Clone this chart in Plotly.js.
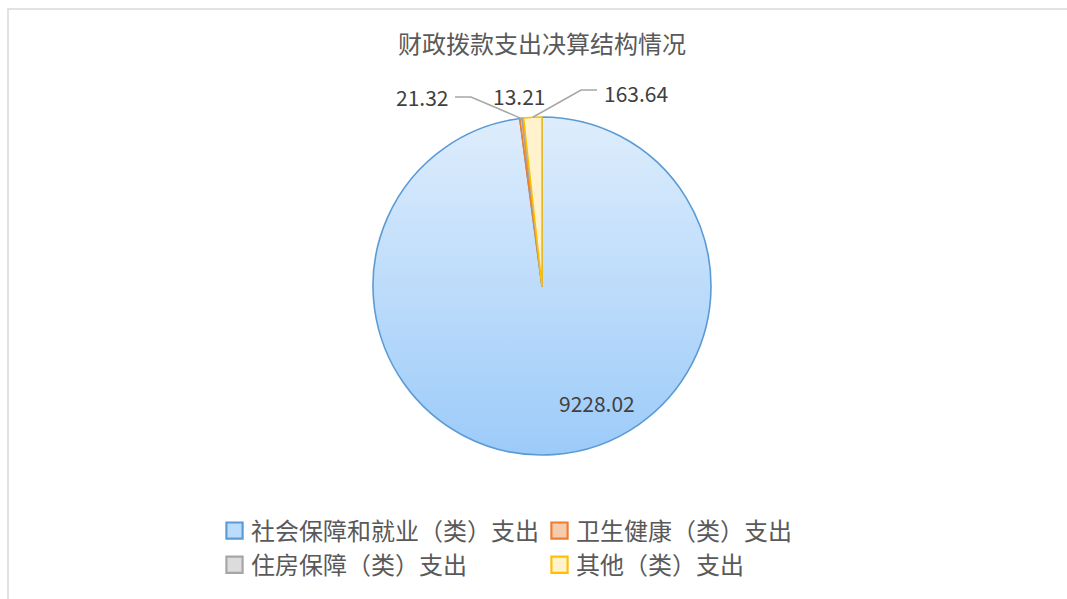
<!DOCTYPE html>
<html>
<head>
<meta charset="utf-8">
<script src="https://cdn.plot.ly/plotly-3.0.1.min.js"></script>
<style>
html,body{margin:0;padding:0;background:#fff;}
#chart{width:1067px;height:599px;}
</style>
</head>
<body>
<div id="chart"></div>
<script>
// ---- data ----
const categories = ['社会保障和就业（类）支出', '卫生健康（类）支出', '住房保障（类）支出', '其他（类）支出'];
const values = [9228.02, 21.32, 13.21, 163.64];
const valueLabels = ['9228.02', '21.32', '13.21', '163.64'];
const chartTitle = '财政拨款支出决算结构情况';

// ---- style ----
const fills = ['#bcdcfb', '#f8cbad', '#dcdcdc', '#fff2cc'];
const edges = ['#5b9bd5', '#ed7d31', '#a5a5a5', '#ffc000'];
const W = 1067, H = 599;
const ML = 200, MR = 180;
const GW = W - ML - MR;
const cx = 542, cy = 286, R = 169;
const font = '"Noto Sans CJK SC", "Noto Sans", sans-serif';

// slice mid angles (clockwise from 12 o'clock), derived from data
const total = values.reduce((a, b) => a + b, 0);
let acc = 0;
const mids = values.map(v => { const a0 = acc; acc += v; return ((a0 + v / 2) / total) * 2 * Math.PI; });
const edgePt = (i, rr) => [cx + rr * Math.sin(mids[i]), cy - rr * Math.cos(mids[i])];
const px = x => (x - ML) / GW, py = y => 1 - y / H;

// label placement (pixels) for each value label
const labelPos = [[597, 403], [422, 97], [519, 96], [636, 93]];
const annotations = valueLabels.map((t, i) => ({
  text: t, x: px(labelPos[i][0]), y: py(labelPos[i][1]), xref: 'paper', yref: 'paper',
  showarrow: false, xanchor: 'center', yanchor: 'middle',
  font: {family: font, size: 21, color: '#404040'}
}));

const e1 = edgePt(1, R), e3 = edgePt(3, R);
const leader = (pts) => 'M' + pts.map(p => px(p[0]) + ',' + py(p[1])).join(' L');
const shapes = [
  {type: 'rect', xref: 'paper', yref: 'paper', x0: px(8), x1: px(1080), y0: py(620), y1: py(9),
   line: {color: '#d9d9d9', width: 1.5}, fillcolor: 'rgba(0,0,0,0)', layer: 'below'},
  {type: 'path', xref: 'paper', yref: 'paper', path: leader([[455, 97], [471, 97], e1]),
   line: {color: '#a6a6a6', width: 1.5}},
  {type: 'path', xref: 'paper', yref: 'paper', path: leader([[597, 90], [581, 90], e3]),
   line: {color: '#a6a6a6', width: 1.5}}
];

const trace = {
  type: 'pie', labels: categories, values: values, sort: false, direction: 'clockwise', rotation: 0,
  textinfo: 'none', hoverinfo: 'skip',
  marker: {colors: fills, line: {color: edges, width: 1.6}},
  domain: {x: [px(373), px(711)], y: [py(455), py(117)]}
};

const layout = {
  width: W, height: H, margin: {l: ML, r: MR, t: 0, b: 0, autoexpand: false},
  paper_bgcolor: '#fff', plot_bgcolor: '#fff',
  title: {text: chartTitle, x: 542 / W, xanchor: 'center', xref: 'container', y: py(45), yanchor: 'middle', yref: 'container',
          font: {family: font, size: 24, color: '#595959'}},
  showlegend: true,
  legend: {orientation: 'h', x: px(211), xanchor: 'left', y: py(508.5), yanchor: 'top',
           font: {family: font, size: 24, color: '#595959'},
           traceorder: 'normal', itemclick: false, itemdoubleclick: false, tracegroupgap: 0},
  annotations: annotations, shapes: shapes
};

Plotly.newPlot('chart', [trace], layout, {displayModeBar: false, staticPlot: true}).then(gd => {
  const svg = gd.querySelector('svg.main-svg');
  const ns = 'http://www.w3.org/2000/svg';
  let defs = svg.querySelector('defs');
  const grad = document.createElementNS(ns, 'linearGradient');
  grad.setAttribute('id', 'blueGrad');
  grad.setAttribute('x1', '0'); grad.setAttribute('y1', '0'); grad.setAttribute('x2', '0'); grad.setAttribute('y2', '1');
  [['0', '#deedfc'], ['1', '#9ccbf9']].forEach(([o, c]) => {
    const s = document.createElementNS(ns, 'stop'); s.setAttribute('offset', o); s.setAttribute('stop-color', c); grad.appendChild(s);
  });
  defs.appendChild(grad);
  const slices = gd.querySelectorAll('.pielayer .slice path.surface');
  if (slices[0]) slices[0].style.fill = 'url(#blueGrad)';
  // legend fine tuning: bigger swatches closer to text, tighter column spacing
  gd.querySelectorAll('.legend .legendpoints path').forEach(p => {
    const t = p.getAttribute('transform') || '';
    p.setAttribute('transform', t + ' translate(3.5,0) scale(1.35)');
  });
  gd.querySelectorAll('.legend g.traces').forEach(g => {
    const t = g.getAttribute('transform') || '';
    const m = t.match(/translate\(\s*([-\d.]+)[ ,]+([-\d.]+)\s*\)/);
    if (m && parseFloat(m[1]) > 100) {
      g.setAttribute('transform', 'translate(' + (parseFloat(m[1]) - 8) + ',' + m[2] + ')');
    }
  });
});
</script>
</body>
</html>
